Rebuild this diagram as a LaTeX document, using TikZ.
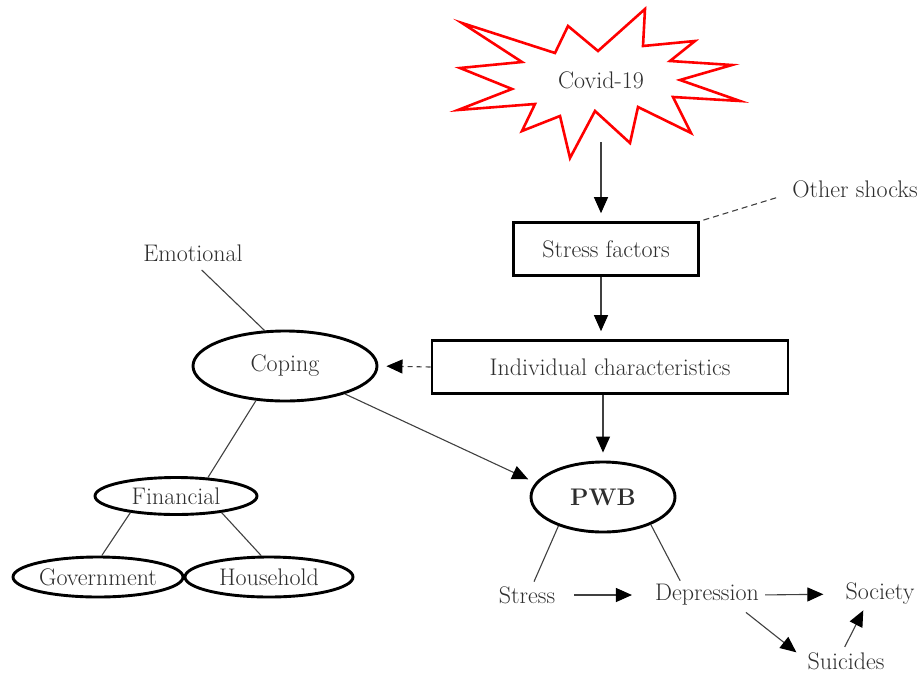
\documentclass[tikz,border=0pt]{standalone}
\usepackage{fontspec}
\usetikzlibrary{arrows.meta, shapes.geometric}
\definecolor{txtgray}{HTML}{2E2E2E}
\definecolor{linegray}{HTML}{404040}

\begin{document}
\begin{tikzpicture}[x=1pt, y=-1pt,
        every node/.style={font=\fontsize{24}{28}\selectfont, text=txtgray, inner sep=0pt},
        box/.style={draw=black, line width=2.6pt, minimum height=53pt},
        oval/.style={draw=black, ellipse, line width=2.9pt},
        link/.style={draw=linegray, line width=1.1pt},
        arr/.style={link, -{Triangle[length=16pt,width=14pt,color=black]}, shorten >=8pt}]
    \useasboundingbox (0,0) rectangle (923,675);

    \draw[red, line width=2.6pt, fill=white]
        (462,23) -- (555,53) -- (568,26) -- (598,51) -- (645,9) -- (643,46)
        -- (695,41) -- (670,61) -- (732,65) -- (680,80) -- (740,101) -- (673,97)
        -- (691,133) -- (638,107) -- (630,143) -- (595,111) -- (570,158) -- (560,116)
        -- (522,131) -- (535,104) -- (458,110) -- (512,89) -- (460,68) -- (522,62) -- cycle;

    \node[minimum width=200pt, minimum height=124pt] (covid) at (601,80) {Covid-19};
    \node[box, minimum width=185pt] (sf) at (606,249) {Stress factors};
    \node (other) at (855,189) {Other shocks};
    \node[box, minimum width=356pt] (ic) at (610,367) {Individual characteristics};
    \node[oval, minimum width=184pt, minimum height=70pt] (coping) at (285,366) {Coping};
    \node (emo) at (193,253) {Emotional};
    \node[oval, minimum width=144pt, minimum height=70pt] (pwb) at (603,497) {\textbf{PWB}};
    \node[oval, minimum width=162pt, minimum height=37pt] (fin) at (176,496) {Financial};
    \node[oval, minimum width=170pt, minimum height=40pt] (gov) at (98,577) {Government};
    \node[oval, minimum width=168pt, minimum height=40pt] (hh) at (269,577) {Household};
    \node (stress) at (527,595) {Stress};
    \node (depr) at (707,595) {Depression};
    \node (soc) at (880,594) {Society};
    \node (suic) at (846,661) {Suicides};

    \draw[arr] (covid.south) -- (covid.south |- sf.north);
    \draw[link, dash pattern=on 6pt off 4pt] ([xshift=-16pt]other.south west) -- (sf.north east);
    \draw[arr] (sf.south -| covid.south) -- (ic.north -| covid.south);
    \draw[arr, dash pattern=on 5pt off 4pt] (ic.west) -- (coping.east);
    \draw[arr] (ic.south -| pwb.north) -- (pwb.north);

    \draw[link, shorten <=12pt] (emo.south) -- (coping.120);
    \draw[link] (coping.230) -- (fin.30);
    \draw[arr] (coping.335) -- (pwb.168);
    \draw[link] (fin.200) -- (gov.80);
    \draw[link] (fin.340) -- (hh.110);

    \draw[link, shorten >=5pt] (pwb.213) -- ([xshift=5pt]stress.north);
    \draw[link, shorten >=4pt] (pwb.330) -- ([xshift=-25pt]depr.north);
    \draw[arr, shorten <=19pt, shorten >=23pt] (stress.east) -- (depr.west);
    \draw[arr, shorten <=6pt, shorten >=22pt] (depr.east) -- (soc.west);
    \draw[arr, shorten <=28pt, shorten >=14pt] ([xshift=17pt]depr.center) -- (suic.west);
    \draw[arr, shorten <=6pt, shorten >=6pt] ([xshift=-4pt]suic.north) -- ([xshift=-14pt]soc.south);
\end{tikzpicture}
\end{document}
